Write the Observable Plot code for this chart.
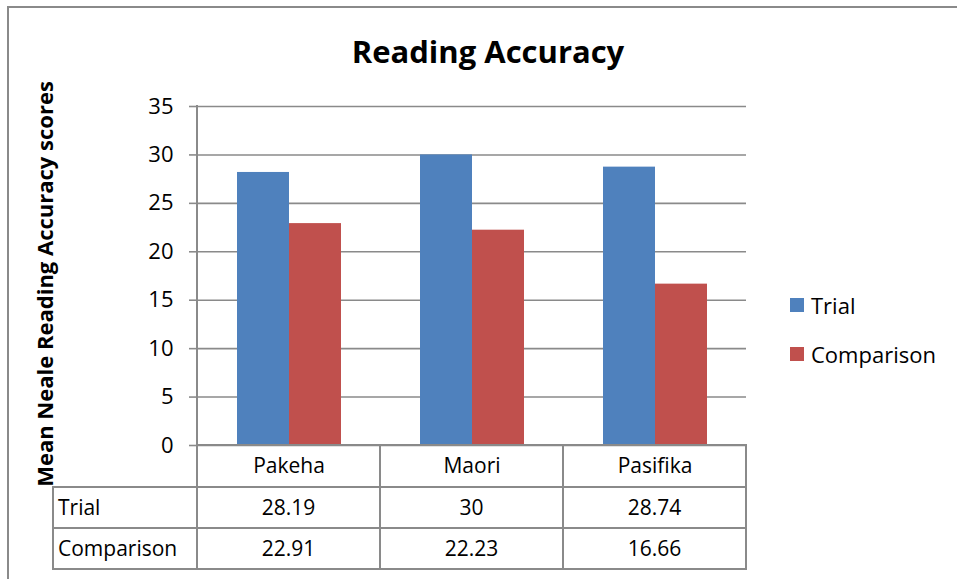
<!DOCTYPE html>
<html>
<head>
<meta charset="utf-8">
<script src="https://cdn.jsdelivr.net/npm/d3@7"></script>
<script src="https://cdn.jsdelivr.net/npm/@observablehq/plot@0.6"></script>
<style>
  html, body { margin: 0; padding: 0; background: #fff; }
  #wrap { position: relative; width: 957px; height: 579px; overflow: hidden; font-family: "Open Sans", sans-serif; color: #000; }
  #frame { position: absolute; left: 7px; top: 6px; width: 1000px; height: 700px; border-top: 2px solid #8a8a8a; border-left: 2px solid #8a8a8a; }
  #title { position: absolute; left: 0; top: 30px; width: 976px; text-align: center; font-weight: bold; font-size: 31px; }
  #chart { position: absolute; left: 0; top: 0; }
  #chart svg { overflow: visible; }
  .ln { position: absolute; background: #8a8a8a; }
  .cell { position: absolute; font-size: 21px; white-space: nowrap; }
  #legend { position: absolute; left: 790px; top: 287px; font-size: 22px; }
  .li { display: flex; align-items: center; height: 36px; margin-bottom: 13px; }
  .sw { width: 14px; height: 14px; margin-right: 7px; }
</style>
</head>
<body>
<div id="wrap">
  <div id="frame"></div>
  <div id="title"></div>
  <div id="chart"></div>
  <div id="legend"></div>
</div>
<script>
const title = "Reading Accuracy";
const yLabel = "Mean Neale Reading Accuracy scores";
const categories = ["Pakeha", "Maori", "Pasifika"];
const series = ["Trial", "Comparison"];
const trial = [28.19, 30, 28.74];
const comparison = [22.91, 22.23, 16.66];
const tableText = { Trial: ["28.19", "30", "28.74"], Comparison: ["22.91", "22.23", "16.66"] };
const yTicks = [0, 5, 10, 15, 20, 25, 30, 35];
const colors = ["#4F81BD", "#C0504D"];

const rows = categories.flatMap((c, i) => [
  { category: c, series: series[0], value: trial[i] },
  { category: c, series: series[1], value: comparison[i] }
]);

const gridColor = "#8a8a8a";

const chart = Plot.plot({
  width: 957,
  height: 579,
  marginLeft: 196,
  marginRight: 210,
  marginTop: 106,
  marginBottom: 134,
  style: { fontFamily: "'Open Sans', sans-serif", fontSize: "21px", color: "#000", background: "transparent", overflow: "visible" },
  fx: { domain: categories, padding: 0, label: null },
  x: { domain: series, paddingInner: 0, paddingOuter: 0.74, axis: null },
  y: { domain: [0, 35], label: null },
  color: { domain: series, range: colors },
  marks: [
    Plot.gridY(yTicks, { stroke: gridColor, strokeOpacity: 1, strokeWidth: 1.6 }),
    Plot.axisY(yTicks, { tickSize: 8, tickPadding: 16, stroke: gridColor, strokeWidth: 1.6, fill: "#000", label: null, fontSize: 22 }),
    Plot.axisFx({ anchor: "bottom", tickSize: 0, tickPadding: 13, label: null, fill: "#000", fontSize: 21 }),
    Plot.barY(rows, { fx: "category", x: "series", y: "value", fill: "series" }),
    Plot.text([yLabel], { fx: () => categories[0], frameAnchor: "left", textAnchor: "middle", lineAnchor: "middle", rotate: -90, dx: -152, dy: 8, fontWeight: "bold", fontSize: 22, fill: "#000" })
  ]
});
document.getElementById("chart").appendChild(chart);
document.getElementById("title").textContent = title;

// Data table and axis line, positioned from the plot's own scales
const wrap = document.getElementById("wrap");
const fxs = chart.scale("fx");
const ys = chart.scale("y");
const bw = fxs.bandwidth;
const colLeft = categories.map(c => fxs.apply(c));
const plotLeft = colLeft[0];
const plotRight = colLeft[colLeft.length - 1] + bw;
const y0 = ys.apply(0);
const yTop = ys.apply(yTicks[yTicks.length - 1]);
const rowH = [42, 41, 41];
const r1 = y0 + rowH[0], r2 = r1 + rowH[1], r3 = r2 + rowH[2];
const tableLeft = 53;
const lw = 2;

function hline(x1, x2, y) {
  const d = document.createElement("div");
  d.className = "ln";
  Object.assign(d.style, { left: (x1 - lw / 2) + "px", top: (y - lw / 2) + "px", width: (x2 - x1 + lw) + "px", height: lw + "px" });
  wrap.appendChild(d);
}
function vline(x, y1, y2) {
  const d = document.createElement("div");
  d.className = "ln";
  Object.assign(d.style, { left: (x - lw / 2) + "px", top: (y1 - lw / 2) + "px", width: lw + "px", height: (y2 - y1 + lw) + "px" });
  wrap.appendChild(d);
}
vline(plotLeft, yTop, y0);
hline(plotLeft, plotRight, y0);
[r1, r2, r3].forEach(y => hline(tableLeft, plotRight, y));
vline(tableLeft, r1, r3);
[plotLeft, ...colLeft.slice(1), plotRight].forEach(x => vline(x, y0, r3));

function cell(text, x, w, y, h, align) {
  const d = document.createElement("div");
  d.className = "cell";
  d.textContent = text;
  Object.assign(d.style, { left: x + "px", width: w + "px", top: y + "px", height: h + "px", lineHeight: h + "px", textAlign: align });
  wrap.appendChild(d);
}
series.forEach((s, si) => {
  const top = si === 0 ? r1 : r2;
  const h = rowH[si + 1];
  cell(s, tableLeft + 5, plotLeft - tableLeft - 5, top, h, "left");
  categories.forEach((c, ci) => cell(tableText[s][ci], colLeft[ci], bw, top, h, "center"));
});

// Legend
const legend = d3.select("#legend");
series.forEach((s, i) => {
  const item = legend.append("div").attr("class", "li");
  item.append("div").attr("class", "sw").style("background", colors[i]);
  item.append("span").text(s);
});
</script>
</body>
</html>
